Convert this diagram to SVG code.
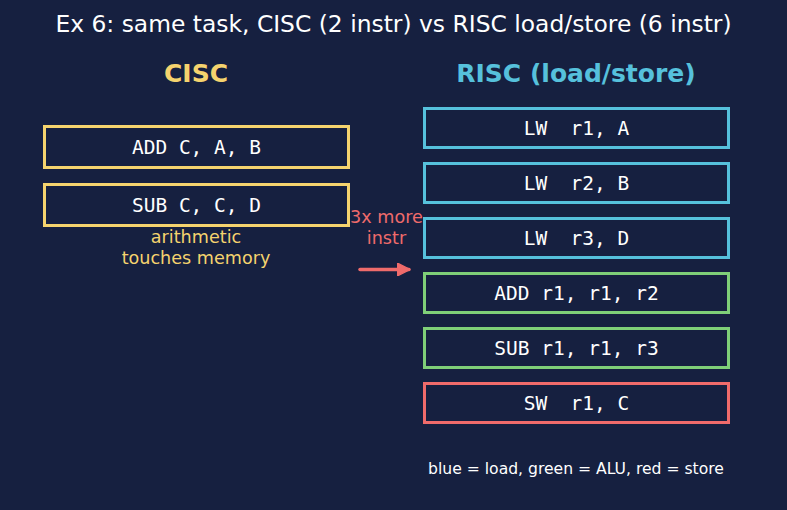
<svg xmlns="http://www.w3.org/2000/svg" width="787" height="510" viewBox="0 0 787 510">
<style>
.t{font-family:"DejaVu Sans",sans-serif;text-anchor:middle}
.m{font-family:"DejaVu Sans Mono",monospace;font-size:19.5px;fill:#ffffff;text-anchor:middle;white-space:pre}
.box{fill:none;stroke-width:3}
.y{stroke:#f5d36e}.b{stroke:#56c1dc}.g{stroke:#7fcf78}.r{stroke:#ef6b6b}
</style>
<defs>
<marker id="ah" viewBox="0 0 10 10" refX="9" refY="5" markerWidth="3.7" markerHeight="3.7" orient="auto" markerUnits="strokeWidth">
<path d="M0,0 L10,5 L0,10 z" fill="#ef6b6b" stroke="#ef6b6b" stroke-width="1" stroke-linejoin="round"/>
</marker>
</defs>
<rect width="787" height="510" fill="#162040"/>
<text class="t" x="393.5" y="32" font-size="23.4" fill="#ffffff">Ex 6: same task, CISC (2 instr) vs RISC load/store (6 instr)</text>
<text class="t" x="196" y="82" font-size="25" font-weight="bold" fill="#f5d36e">CISC</text>
<text class="t" x="576" y="82" font-size="25" font-weight="bold" fill="#56c1dc">RISC (load/store)</text>
<g id="cisc1"><rect class="box y" x="44.5" y="126.5" width="304" height="41"/><text class="m" x="196.5" y="153.5">ADD C, A, B</text></g>
<g id="cisc2"><rect class="box y" x="44.5" y="184.5" width="304" height="41"/><text class="m" x="196.5" y="211.5">SUB C, C, D</text></g>
<text class="t" x="196" y="243" font-size="17.6" fill="#f5d36e">arithmetic</text>
<text class="t" x="196" y="264" font-size="17.6" fill="#f5d36e">touches memory</text>
<g id="risc1"><rect class="box b" x="424.5" y="108.5" width="304" height="39"/><text class="m" x="576.5" y="134.5">LW  r1, A</text></g>
<g id="risc2"><rect class="box b" x="424.5" y="163.5" width="304" height="39"/><text class="m" x="576.5" y="189.5">LW  r2, B</text></g>
<g id="risc3"><rect class="box b" x="424.5" y="218.5" width="304" height="39"/><text class="m" x="576.5" y="244.5">LW  r3, D</text></g>
<g id="risc4"><rect class="box g" x="424.5" y="273.5" width="304" height="39"/><text class="m" x="576.5" y="299.5">ADD r1, r1, r2</text></g>
<g id="risc5"><rect class="box g" x="424.5" y="328.5" width="304" height="39"/><text class="m" x="576.5" y="354.5">SUB r1, r1, r3</text></g>
<g id="risc6"><rect class="box r" x="424.5" y="383.5" width="304" height="39"/><text class="m" x="576.5" y="409.5">SW  r1, C</text></g>
<g id="connectors">
<text class="t" x="386.5" y="223" font-size="17.6" fill="#ef6b6b">3x more</text>
<text class="t" x="386.5" y="244" font-size="17.6" fill="#ef6b6b">instr</text>
<line x1="360" y1="269.5" x2="409" y2="269.5" stroke="#ef6b6b" stroke-width="3.5" stroke-linecap="round" marker-end="url(#ah)"/>
</g>
<text class="t" x="576" y="474" font-size="15.6" fill="#ffffff">blue = load, green = ALU, red = store</text>
</svg>
